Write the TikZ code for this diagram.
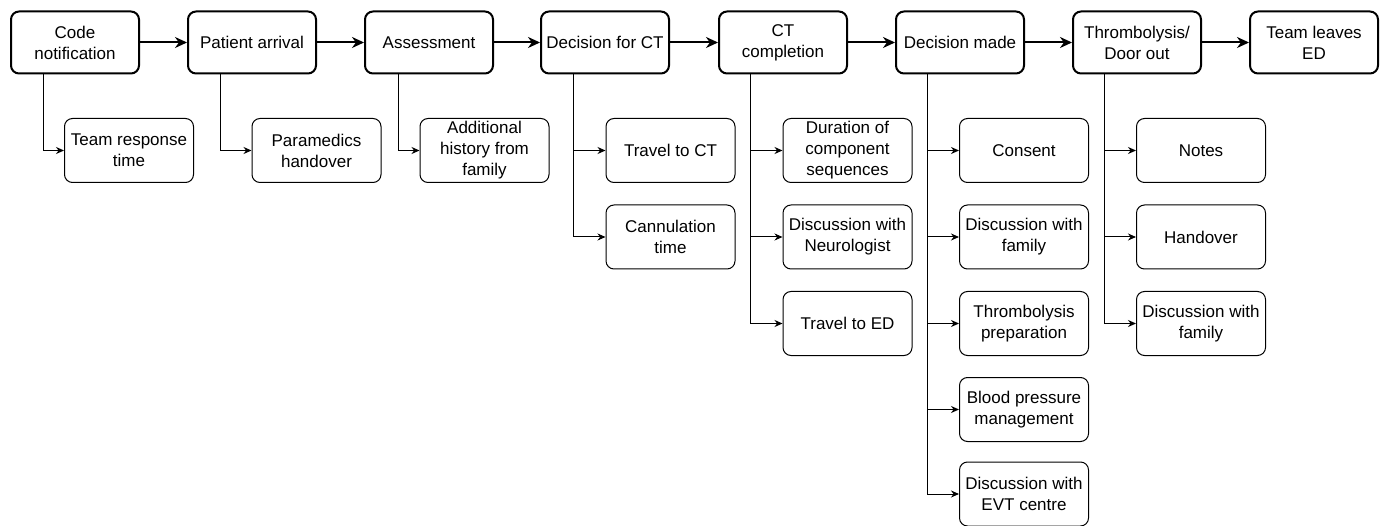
\documentclass[tikz,border=0pt]{standalone}
\usepackage{fontspec}
\setmainfont{Liberation Sans}
\usetikzlibrary{arrows.meta}
\begin{document}
\begin{tikzpicture}[x=1pt,y=-1pt,
  every node/.style={font=\fontsize{17}{21}\selectfont, align=center, inner sep=0pt},
  mainbox/.style={draw, line width=2pt, rounded corners=8pt, minimum width=128pt, minimum height=62pt, fill=white},
  subbox/.style={draw, line width=1pt, rounded corners=8pt, minimum width=129pt, minimum height=64pt, fill=white},
  mainarrow/.style={draw, line width=2pt, -{Stealth[length=12pt,width=11pt]}},
  subarrow/.style={draw, line width=1pt, -{Stealth[length=8pt,width=7pt]}}
]
\useasboundingbox (0,0) rectangle (1383,526);
% main row
\node[mainbox] (m1) at (75,42.5) {Code\\notification};
\node[mainbox] (m2) at (252,42.5) {Patient arrival};
\node[mainbox] (m3) at (429,42.5) {Assessment};
\node[mainbox] (m4) at (605,42.5) {Decision for CT};
\node[mainbox] (m5) at (783,42.5) {CT\\completion};
\node[mainbox] (m6) at (960,42.5) {Decision made};
\node[mainbox] (m7) at (1137,42.5) {Thrombolysis/\\Door out};
\node[mainbox] (m8) at (1314,42.5) {Team leaves\\ED};
\foreach \a/\b in {m1/m2,m2/m3,m3/m4,m4/m5,m5/m6,m6/m7,m7/m8}
  \draw[mainarrow] (\a) -- (\b);
% sub boxes
\node[subbox] (s1) at (129,150.5) {Team response\\time};
\node[subbox] (s2) at (316.5,150.5) {Paramedics\\handover};
\node[subbox] (s3) at (484.5,150.5) {Additional\\history from\\family};
\node[subbox] (s4a) at (670.5,150.5) {Travel to CT};
\node[subbox] (s4b) at (670.5,237) {Cannulation\\time};
\node[subbox] (s5a) at (847.5,150.5) {Duration of\\component\\sequences};
\node[subbox] (s5b) at (847.5,237) {Discussion with\\Neurologist};
\node[subbox] (s5c) at (847.5,323.5) {Travel to ED};
\node[subbox] (s6a) at (1024,150.5) {Consent};
\node[subbox] (s6b) at (1024,237) {Discussion with\\family};
\node[subbox] (s6c) at (1024,323.5) {Thrombolysis\\preparation};
\node[subbox] (s6d) at (1024,409.5) {Blood pressure\\management};
\node[subbox] (s6e) at (1024,494) {Discussion with\\EVT centre};
\node[subbox] (s7a) at (1201,150.5) {Notes};
\node[subbox] (s7b) at (1201,237) {Handover};
\node[subbox] (s7c) at (1201,323.5) {Discussion with\\family};
% sub connectors
\draw[subarrow] ([xshift=33pt]m1.south west) |- (s1.west);
\draw[subarrow] ([xshift=33pt]m2.south west) |- (s2.west);
\draw[subarrow] ([xshift=34pt]m3.south west) |- (s3.west);
\foreach \s in {s4a,s4b} \draw[subarrow] ([xshift=33pt]m4.south west) |- (\s.west);
\foreach \s in {s5a,s5b,s5c} \draw[subarrow] ([xshift=32pt]m5.south west) |- (\s.west);
\foreach \s in {s6a,s6b,s6c,s6d,s6e} \draw[subarrow] ([xshift=32pt]m6.south west) |- (\s.west);
\foreach \s in {s7a,s7b,s7c} \draw[subarrow] ([xshift=32pt]m7.south west) |- (\s.west);
\end{tikzpicture}
\end{document}
